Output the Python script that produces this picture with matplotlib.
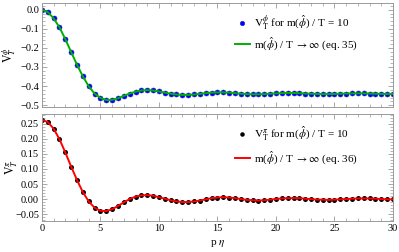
import numpy as np
import matplotlib as mpl
mpl.use('Agg')
import matplotlib.pyplot as plt
from matplotlib.ticker import MultipleLocator

# Sample positions p*eta
p_eta = np.arange(0, 30.01, 0.5)

# Top panel: V_T^phi for m/T = 10 (dots) and m/T -> inf (eq. 35)
v_phi = [0.000, -0.012, -0.045, -0.092, -0.154, -0.222, -0.288, -0.349,
         -0.401, -0.439, -0.462, -0.473, -0.472, -0.464, -0.451, -0.439,
         -0.429, -0.423, -0.421, -0.423, -0.428, -0.434, -0.440, -0.444,
         -0.446, -0.446, -0.444, -0.441, -0.437, -0.434, -0.433, -0.433,
         -0.434, -0.437, -0.440, -0.442, -0.443, -0.443, -0.442, -0.440,
         -0.438, -0.437, -0.436, -0.436, -0.437, -0.439, -0.440, -0.441,
         -0.442, -0.442, -0.441, -0.440, -0.439, -0.438, -0.438, -0.438,
         -0.439, -0.440, -0.441, -0.441, -0.441]
eq35 = list(v_phi)

# Bottom panel: V_T^pi for m/T = 10 (dots) and m/T -> inf (eq. 36)
v_pi = [0.263, 0.256, 0.234, 0.199, 0.155, 0.108, 0.063, 0.023,
        -0.008, -0.029, -0.039, -0.040, -0.034, -0.023, -0.011, 0.000,
        0.008, 0.012, 0.013, 0.011, 0.006, 0.001, -0.004, -0.008,
        -0.010, -0.010, -0.008, -0.005, -0.001, 0.003, 0.005, 0.006,
        0.005, 0.003, 0.000, -0.003, -0.004, -0.005, -0.004, -0.002,
        0.000, 0.002, 0.003, 0.003, 0.003, 0.001, 0.000, -0.002,
        -0.002, -0.003, -0.002, -0.001, 0.000, 0.001, 0.002, 0.002,
        0.002, 0.001, 0.000, -0.001, -0.001]
eq36 = list(v_pi)

mpl.rcParams['font.family'] = 'Liberation Serif'
mpl.rcParams['mathtext.fontset'] = 'stix'

frame_color = '#9a9a9a'
fig = plt.figure(figsize=(3.99, 2.52), dpi=100)

ax_top = fig.add_axes([0.105, 0.575, 0.88, 0.413])
ax_bot = fig.add_axes([0.105, 0.123, 0.88, 0.425])


def style(ax, ymajor, yminor):
    ax.set_xlim(0, 30)
    ax.xaxis.set_major_locator(MultipleLocator(5))
    ax.xaxis.set_minor_locator(MultipleLocator(1))
    ax.yaxis.set_major_locator(MultipleLocator(ymajor))
    ax.yaxis.set_minor_locator(MultipleLocator(yminor))
    ax.tick_params(axis='both', which='both', direction='in', top=True,
                   right=True, color=frame_color, labelsize=7.5, pad=2)
    ax.tick_params(which='major', length=3.5, width=0.6)
    ax.tick_params(which='minor', length=2, width=0.5)
    for spine in ax.spines.values():
        spine.set_color(frame_color)
        spine.set_linewidth(0.7)


leg_kw = dict(loc='upper right', fontsize=8, frameon=False,
              handlelength=1.4, handletextpad=0.35, borderaxespad=0,
              borderpad=0, markerscale=0.9)

# Top panel
ax_top.plot(p_eta, v_phi, 'o', color='#0000ff', ms=3.6, mec='#2020d0',
            mew=0.4, label=r'$\mathrm{V}_\mathrm{T}^{\phi}$ for m($\hat{\phi}$) / T = 10')
ax_top.plot(p_eta, eq35, color='#00b000', lw=1.4,
            label=r'm($\hat{\phi}$) / T $\rightarrow\infty$ (eq. 35)')
ax_top.set_ylim(-0.51, 0.035)
style(ax_top, 0.1, 0.02)
ax_top.set_yticks([0.0, -0.1, -0.2, -0.3, -0.4, -0.5])
ax_top.set_yticklabels(['0.0', '\u22120.1', '\u22120.2', '\u22120.3',
                        '\u22120.4', '\u22120.5'])
ax_top.tick_params(labelbottom=False)
ax_top.set_ylabel(r'$\mathrm{V}_T^{\phi}$', fontsize=8.5)
ax_top.yaxis.set_label_coords(-0.066, 0.5)
ax_top.legend(bbox_to_anchor=(0.9, 0.9), labelspacing=0.3, **leg_kw)

# Bottom panel
ax_bot.plot(p_eta, v_pi, 'o', color='black', ms=3.6, mew=0,
            label=r'$\mathrm{V}_\mathrm{T}^{\pi}$ for m($\hat{\phi}$) / T = 10')
ax_bot.plot(p_eta, eq36, color='#ff0000', lw=1.4,
            label=r'm($\hat{\phi}$) / T $\rightarrow\infty$ (eq. 36)')
ax_bot.set_ylim(-0.073, 0.283)
style(ax_bot, 0.05, 0.01)
ax_bot.set_yticks([0.25, 0.20, 0.15, 0.10, 0.05, 0.0, -0.05])
ax_bot.set_yticklabels(['0.25', '0.20', '0.15', '0.10', '0.05', '0.00',
                        '\u22120.05'])
ax_bot.set_ylabel(r'$\mathrm{V}_T^{\pi}$', fontsize=8.5)
ax_bot.yaxis.set_label_coords(-0.066, 0.5)
ax_bot.set_xlabel(r'p $\eta$', fontsize=8, labelpad=4)
ax_bot.legend(bbox_to_anchor=(0.9, 0.9), labelspacing=0.55, **leg_kw)

fig.savefig('out.png', dpi=100)
